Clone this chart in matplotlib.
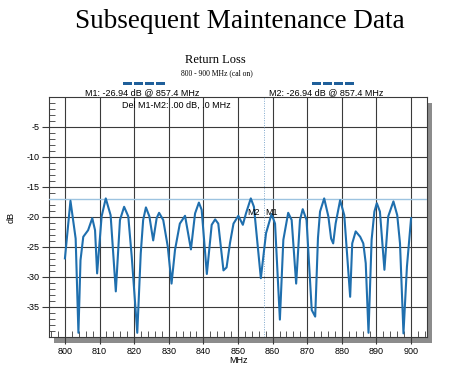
import matplotlib
matplotlib.use('Agg')
import matplotlib.pyplot as plt
from matplotlib.patches import Rectangle
from matplotlib.ticker import MultipleLocator

plt.rcParams['axes.unicode_minus'] = False

# return loss trace
freq = [800.0, 801.6, 803.1, 803.9, 804.5, 805.3, 806.7, 807.9, 808.7, 809.3,
        810.6, 811.8, 813.2, 814.7, 815.9, 817.1, 818.3, 819.3, 820.9, 821.9,
        822.6, 823.4, 824.4, 825.5, 826.5, 827.2, 828.4, 829.7, 830.8, 831.8,
        833.2, 834.7, 836.4, 837.6, 838.7, 839.5, 841.0, 842.4, 843.4, 844.3,
        845.8, 846.7, 847.7, 848.7, 850.1, 851.4, 852.3, 853.7, 854.6, 856.6,
        858.1, 859.7, 860.7, 862.1, 863.1, 864.5, 865.5, 866.8, 867.9, 868.7,
        869.8, 871.3, 872.3, 873.1, 873.7, 874.9, 876.1, 876.9, 877.5, 878.2,
        879.5, 880.7, 882.4, 883.0, 884.0, 885.3, 886.2, 886.9, 887.7, 888.6,
        889.4, 890.1, 891.0, 892.3, 893.4, 894.9, 896.0, 896.8, 897.8, 898.8,
        900.0]
db = [-26.9, -17.3, -23.6, -39.3, -27.2, -23.3, -22.2, -20.2, -22.2, -29.4,
      -19.9, -16.9, -19.7, -32.4, -20.5, -18.3, -19.9, -26.6, -39.3, -26.1,
      -20.5, -18.4, -19.9, -23.9, -20.2, -19.3, -20.5, -24.9, -31.1, -25.5,
      -21.1, -19.8, -25.4, -19.4, -17.6, -18.8, -29.5, -21.3, -20.4, -21.1,
      -28.9, -28.4, -24.3, -21.1, -19.8, -21.3, -19.4, -16.9, -18.3, -30.2,
      -22.7, -19.5, -21.1, -37.1, -23.8, -19.3, -20.5, -31.1, -20.5, -18.7,
      -20.5, -35.5, -36.6, -23.5, -19.1, -16.9, -19.9, -23.6, -24.4, -21.1,
      -17.2, -19.7, -33.3, -24.4, -22.4, -23.3, -24.4, -27.7, -39.3, -23.8,
      -19.1, -17.7, -19.1, -28.8, -19.9, -17.4, -19.7, -24.4, -39.4, -28.3,
      -20.2]

limit_db = -17
marker_freq = 857.4
yticks = [-5, -10, -15, -20, -25, -30, -35]
xticks = [800, 810, 820, 830, 840, 850, 860, 870, 880, 890, 900]

W, H = 450, 372
fig = plt.figure(figsize=(W / 100, H / 100), dpi=100)
fig.patch.set_facecolor('white')

left, right, top, bottom = 49, 427, 97, 337
# drop shadow behind the plot frame
shadow = Rectangle(((left + 5) / W, 1 - (bottom + 6) / H),
                   (right - left) / W, (bottom - top) / H,
                   transform=fig.transFigure, facecolor='#8c8c8c',
                   edgecolor='none', zorder=0)
fig.patches.append(shadow)
ax = fig.add_axes([left / W, 1 - bottom / H, (right - left) / W, (bottom - top) / H])
ax.set_zorder(2)
ax.set_facecolor('white')

ax.plot(freq, db, color='#1f6fae', lw=1.5, zorder=4)
ax.axhline(limit_db, color='#9cc3e0', lw=1.0, zorder=3)
ax.axvline(marker_freq, color='#7fa8cc', lw=0.7, ls=(0, (1, 1.5)), zorder=3)

ax.set_xlim(795.4, 904.6)
ax.set_ylim(-40, 0)
ax.set_xticks(xticks)
ax.set_yticks(yticks)
ax.xaxis.set_minor_locator(MultipleLocator(2))
ax.yaxis.set_minor_locator(MultipleLocator(1))
ax.grid(True, which='major', color='#3a3a3a', lw=0.8)
ax.set_axisbelow(True)
ax.tick_params(which='major', direction='out', length=5, width=0.8,
               color='#3a3a3a', labelsize=6.5, pad=2)
ax.tick_params(which='minor', direction='in', length=4, width=0.6,
               color='#3a3a3a')
for lab in ax.get_xticklabels() + ax.get_yticklabels():
    lab.set_family('Liberation Sans')
for s in ax.spines.values():
    s.set_color('#3a3a3a')
    s.set_linewidth(0.8)

ax.set_xlabel('MHz', family='Liberation Sans', fontsize=6.5, labelpad=0)
ax.set_ylabel('dB', family='Liberation Sans', fontsize=6.5, labelpad=8)

ax.text(852.8, -19.6, 'M2', family='Liberation Sans', fontsize=6.5, zorder=5)
ax.text(857.8, -19.6, 'M1', family='Liberation Sans', fontsize=6.5, zorder=5)
ax.text(816.5, -1.4, 'Del M1-M2: .00 dB, .0 MHz', family='Liberation Sans',
        fontsize=6.5, va='center', zorder=5)

fig.text(240 / W, 1 - 21 / H, 'Subsequent Maintenance Data', family='Liberation Serif',
         fontsize=19.5, ha='center', va='center')
fig.text(215 / W, 1 - 60 / H, 'Return Loss', family='Liberation Serif',
         fontsize=9, ha='center', va='center')
fig.text(217 / W, 1 - 73 / H, '800 - 900 MHz (cal on)', family='Liberation Serif',
         fontsize=5.5, ha='center', va='center')

fig.text(142 / W, 1 - 93 / H, 'M1: -26.94 dB @ 857.4 MHz', family='Liberation Sans',
         fontsize=6.5, ha='center', va='center')
fig.text(326 / W, 1 - 93 / H, 'M2: -26.94 dB @ 857.4 MHz', family='Liberation Sans',
         fontsize=6.5, ha='center', va='center')
for x0 in (123, 312):
    for i in range(4):
        fig.patches.append(Rectangle(((x0 + i * 11) / W, 1 - 85 / H), 9 / W, 3 / H,
                                     transform=fig.transFigure,
                                     facecolor='#1f5f9a', edgecolor='none'))

fig.savefig('out.png', dpi=100)
